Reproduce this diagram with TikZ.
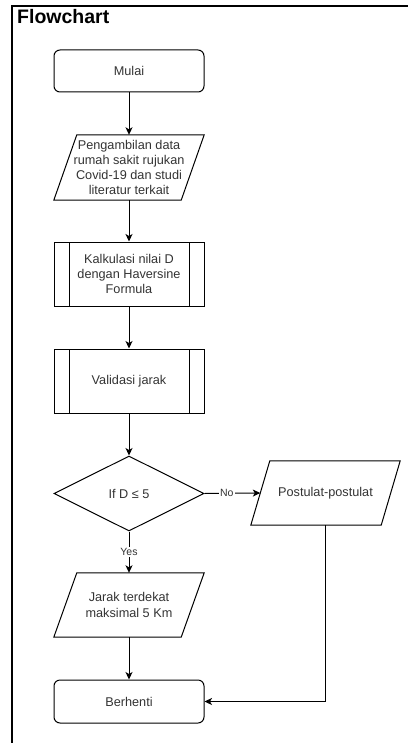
\documentclass[tikz,border=0pt]{standalone}
\usepackage{fontspec}
\setmainfont{Liberation Sans}
\usetikzlibrary{arrows.meta,shapes.geometric,positioning}

\begin{document}
\begin{tikzpicture}[x=1pt, y=-1pt, >={Stealth[length=7.5pt,width=7pt,inset=2pt]},
    font=\fontsize{12.7}{15.3}\selectfont,
    base/.style={draw, line width=1pt, text=black!80, align=center, inner sep=0pt},
    terminal/.style={base, rounded corners=6pt,
                     minimum width=150, minimum height=#1},
    io/.style={text=black!80, align=center, inner sep=0pt,
               minimum width=150, minimum height=64,
               append after command={\pgfextra{
                 \draw[line width=1pt, line join=miter]
                   ([xshift=#1]\tikzlastnode.north west) -- (\tikzlastnode.north east) --
                   ([xshift=-#1]\tikzlastnode.south east) -- (\tikzlastnode.south west) -- cycle;}}},
    subproc/.style={base, minimum width=150, minimum height=64,
                    path picture={
                      \draw[line width=1pt]
                        ([xshift=15]path picture bounding box.north west) --
                        ([xshift=15]path picture bounding box.south west)
                        ([xshift=-15]path picture bounding box.north east) --
                        ([xshift=-15]path picture bounding box.south east);}},
    decision/.style={base, diamond, aspect=2,
                     minimum width=150, minimum height=75},
    flow/.style={->, line width=1pt},
    lbl/.style={fill=white, inner sep=1pt, text=black!80,
                font=\fontsize{10.5}{12}\selectfont}]

  \useasboundingbox (0,0) rectangle (407,743);

  %% Frame and title
  \draw[line width=1.3pt] (420,6) -- (12,6) -- (12,760);
  \node[anchor=base west, inner sep=0pt, font=\bfseries\fontsize{19.5}{21}\selectfont]
    (title) at (17,23.5) {Flowchart};

  %% Main column
  \node[terminal=42] (start) at (129,71) {Mulai};
  \node[io=23, minimum height=65] (data) at (129,167.5)
    {Pengambilan data\\rumah sakit rujukan\\Covid-19 dan studi\\literatur terkait};
  \node[subproc] (calc) at (129,274) {Kalkulasi nilai D\\dengan Haversine\\Formula};
  \node[subproc] (valid) at (129,381) {Validasi jarak};
  \node[decision] (dec) at (129,493.5) {If D ≤ 5};
  \node[io=23] (near) at (129,605) {Jarak terdekat\\maksimal 5 Km};
  \node[terminal=43] (stop) at (129,701.5) {Berhenti};

  %% Side branch
  \node[io=19, minimum width=149] (post) at (325.5,493) {Postulat-postulat};
  \coordinate (bend) at (post.south |- stop.east);

  %% Arrows
  \draw[flow] (start.south) -- (data.north);
  \draw[flow] (data.south)  -- (calc.north);
  \draw[flow] (calc.south)  -- (valid.north);
  \draw[flow] (valid.south) -- (dec.north);
  \draw[flow] (dec.south)   -- node[lbl, pos=0.5] (yes) {Yes} (near.north);
  \draw[flow] (dec.east)    -- node[lbl, pos=0.4] (no) {No} ([xshift=9.5]post.west);
  \draw[flow] (near.south)  -- (stop.north);
  \draw[flow] (post.south)  -- (bend) -- (stop.east);
\end{tikzpicture}
\end{document}
